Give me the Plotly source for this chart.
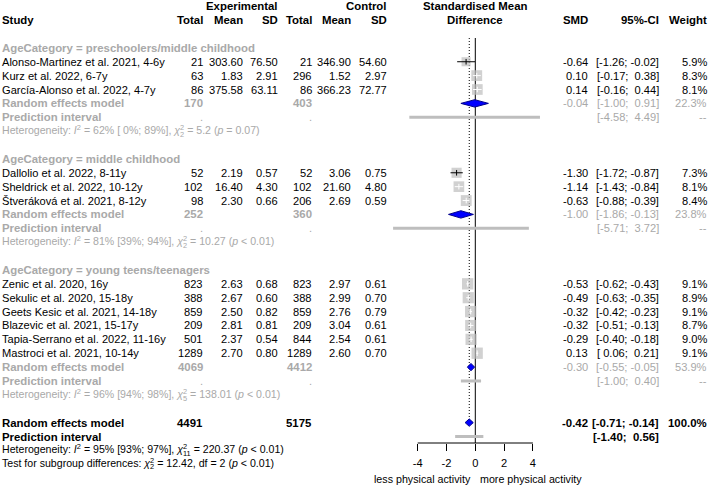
import math
import plotly.graph_objects as go

# ---------------- data ----------------
group_labels = [
    "AgeCategory = preschoolers/middle childhood",
    "AgeCategory = middle childhood",
    "AgeCategory = young teens/teenagers",
]
study = [
    "Alonso-Martinez et al. 2021, 4-6y",
    "Kurz et al. 2022, 6-7y",
    "García-Alonso et al. 2022, 4-7y",
    "Dallolio et al. 2022, 8-11y",
    "Sheldrick et al. 2022, 10-12y",
    "Štveráková et al. 2021, 8-12y",
    "Zenic et al. 2020, 16y",
    "Sekulic et al. 2020, 15-18y",
    "Geets Kesic et al. 2021, 14-18y",
    "Blazevic et al. 2021, 15-17y",
    "Tapia-Serrano et al. 2022, 11-16y",
    "Mastroci et al. 2021, 10-14y",
]
study_group = [0, 0, 0, 1, 1, 1, 2, 2, 2, 2, 2, 2]
exp_total = [21, 63, 86, 52, 102, 98, 823, 388, 859, 209, 501, 1289]
exp_mean = [303.60, 1.83, 375.58, 2.19, 16.40, 2.30, 2.63, 2.67, 2.50, 2.81, 2.37, 2.70]
exp_sd = [76.50, 2.91, 63.11, 0.57, 4.30, 0.66, 0.68, 0.60, 0.82, 0.81, 0.54, 0.80]
ctl_total = [21, 296, 86, 52, 102, 206, 823, 388, 859, 209, 844, 1289]
ctl_mean = [346.90, 1.52, 366.23, 3.06, 21.60, 2.69, 2.97, 2.99, 2.76, 3.04, 2.54, 2.60]
ctl_sd = [54.60, 2.97, 72.77, 0.75, 4.80, 0.59, 0.61, 0.70, 0.79, 0.61, 0.61, 0.70]
smd = [-0.64, 0.10, 0.14, -1.30, -1.14, -0.63, -0.53, -0.49, -0.32, -0.32, -0.29, 0.13]
ci_low = [-1.26, -0.17, -0.16, -1.72, -1.43, -0.88, -0.62, -0.63, -0.42, -0.51, -0.40, 0.06]
ci_high = [-0.02, 0.38, 0.44, -0.87, -0.84, -0.39, -0.43, -0.35, -0.23, -0.13, -0.18, 0.21]
weight = [5.9, 8.3, 8.1, 7.3, 8.1, 8.4, 9.1, 8.9, 9.1, 8.7, 9.0, 9.1]

grp_exp_total = [170, 252, 4069]
grp_ctl_total = [403, 360, 4412]
grp_smd = [-0.04, -1.00, -0.30]
grp_low = [-1.00, -1.86, -0.55]
grp_high = [0.91, -0.13, -0.05]
grp_weight = [22.3, 23.8, 53.9]
grp_pi_low = [-4.58, -5.71, -1.00]
grp_pi_high = [4.49, 3.72, 0.40]
grp_i2 = [62, 81, 96]
grp_i2_low = [0, 39, 94]
grp_i2_high = [89, 94, 98]
grp_q = ["5.2", "10.27", "138.01"]
grp_df = [2, 2, 5]
grp_p = ["= 0.07", "&lt; 0.01", "&lt; 0.01"]

all_exp_total = 4491
all_ctl_total = 5175
all_smd = -0.42
all_low = -0.71
all_high = -0.14
all_weight = 100.0
all_pi_low = -1.40
all_pi_high = 0.56
all_i2, all_i2_low, all_i2_high = 95, 93, 97
all_q, all_df, all_p = "220.37", 11, "&lt; 0.01"
sub_q, sub_df, sub_p = "12.42", 2, "&lt; 0.01"

x_ticks = [-4, -2, 0, 2, 4]
label_left = "less physical activity"
label_right = "more physical activity"

# ---------------- style / layout constants ----------------
W, H = 708, 486
FONT = "Liberation Sans, Arial, sans-serif"
BLACK = "#000000"
DGRAY = "#A9A9A9"
SQCOL = "#BEBEBE"
FS = 11.1
FS_B = 11.4
FS_HET = 10.6
FS_LAB = 10.7
ROW0, ROWH = 20.1, 13.88
ZERO_PX, PX_PER = 475.3, 14.4
X2_L, X2_R = 360.0, 590.0
AXIS_Y = 443
COL = dict(et=203, em=243, esd=278, ct=312, cm=351, csd=387, smd=588, ci=659, w=707)
NB = "\u00a0"


def ry(r):
    return ROW0 + ROWH * r


def f2(v):
    return f"{v:.2f}"


def pad(s, n):
    return NB * max(0, n - len(s)) + s


def ci_txt(lo, hi):
    return f"[{pad(f2(lo), 5)};{NB}{pad(f2(hi), 5)}]"


ann = []


def text(x, y, s, anchor="right", color=BLACK, size=None, bold=False):
    if size is None:
        size = FS_B if bold else FS
    if bold:
        s = f"<b>{s}</b>"
    ann.append(dict(x=x, y=y, xref="x", yref="y", text=s, xanchor=anchor,
                    yanchor="middle", showarrow=False, borderpad=0, borderwidth=0,
                    font=dict(family=FONT, size=size, color=color)))


def het(y, prefix, df, rest, color):
    T = 'style="color:rgba(0,0,0,0)"'
    main = f"{prefix}<i>χ</i><sub>{df}</sub>{rest}"
    over = f"<span {T}>{prefix}<i>χ</i></span><sup>2</sup><span {T}><sub>{df}</sub></span>"
    text(2, y, main, anchor="left", color=color, size=FS_HET)
    text(2, y, over, anchor="left", color=color, size=FS_HET)


def het_prefix(i2, lo, hi):
    return f"Heterogeneity: <i>I</i><sup>2</sup> = {i2}% [{pad(str(lo), 2)}%; {hi}%], "


# ---------------- headers ----------------
text(COL["esd"], ry(-1), "Experimental", bold=True)
text(COL["csd"], ry(-1), "Control", bold=True)
text(ZERO_PX, ry(-1), "Standardised Mean", anchor="center", bold=True)
text(2, ry(0), "Study", anchor="left", bold=True)
for k, lab in [("et", "Total"), ("em", "Mean"), ("esd", "SD"), ("ct", "Total"),
               ("cm", "Mean"), ("csd", "SD"), ("smd", "SMD"), ("ci", "95%-CI"), ("w", "Weight")]:
    text(COL[k], ry(0), lab, bold=True)
text(ZERO_PX, ry(0), "Difference", anchor="center", bold=True)

# ---------------- rows ----------------
sq_x, sq_y, sq_s = [], [], []
blk_x, blk_y, wht_x, wht_y = [], [], [], []
tick_bx, tick_by, tick_wx, tick_wy = [], [], [], []
dia = []   # (lo, est, hi, y)
pis = []   # (lo, hi, y)

r = 2
for g in range(len(group_labels)):
    text(2, ry(r), group_labels[g], anchor="left", color=DGRAY, bold=True)
    idx = [i for i in range(len(study)) if study_group[i] == g]
    for j, i in enumerate(idx):
        y = ry(r + 1 + j)
        text(2, y, study[i], anchor="left")
        text(COL["et"], y, str(exp_total[i]))
        text(COL["em"], y, f2(exp_mean[i]))
        text(COL["esd"], y, f2(exp_sd[i]))
        text(COL["ct"], y, str(ctl_total[i]))
        text(COL["cm"], y, f2(ctl_mean[i]))
        text(COL["csd"], y, f2(ctl_sd[i]))
        text(COL["smd"], y, f2(smd[i]))
        text(COL["ci"], y, ci_txt(ci_low[i], ci_high[i]))
        text(COL["w"], y, f"{weight[i]:.1f}%")
        size = 3.75 * math.sqrt(weight[i])
        sq_x.append(smd[i]); sq_y.append(y); sq_s.append(size)
        half = size / 2 / PX_PER
        inside = ci_low[i] >= smd[i] - half and ci_high[i] <= smd[i] + half
        if inside:
            wht_x += [ci_low[i], ci_high[i], None]; wht_y += [y, y, None]
            tick_wx.append(smd[i]); tick_wy.append(y)
        else:
            blk_x += [ci_low[i], ci_high[i], None]; blk_y += [y, y, None]
            tick_bx.append(smd[i]); tick_by.append(y)
    re_r = r + 1 + len(idx)
    y = ry(re_r)
    text(2, y, "Random effects model", anchor="left", color=DGRAY, bold=True)
    text(COL["et"], y, str(grp_exp_total[g]), color=DGRAY, bold=True)
    text(COL["ct"], y, str(grp_ctl_total[g]), color=DGRAY, bold=True)
    text(COL["smd"], y, f2(grp_smd[g]), color=DGRAY)
    text(COL["ci"], y, ci_txt(grp_low[g], grp_high[g]), color=DGRAY)
    text(COL["w"], y, f"{grp_weight[g]:.1f}%", color=DGRAY)
    dia.append((grp_low[g], grp_smd[g], grp_high[g], y))
    y = ry(re_r + 1)
    text(2, y, "Prediction interval", anchor="left", color=DGRAY, bold=True)
    text(COL["et"], y, ".", color=DGRAY)
    text(COL["ct"], y, ".", color=DGRAY)
    text(COL["ci"], y, ci_txt(grp_pi_low[g], grp_pi_high[g]), color=DGRAY)
    text(COL["w"], y, "--", color=DGRAY)
    pis.append((grp_pi_low[g], grp_pi_high[g], y))
    het(ry(re_r + 2), het_prefix(grp_i2[g], grp_i2_low[g], grp_i2_high[g]), grp_df[g],
        f" = {grp_q[g]} (<i>p</i> {grp_p[g]})", DGRAY)
    r = re_r + 4

# overall
y_all = ry(r)
text(2, y_all, "Random effects model", anchor="left", bold=True)
text(COL["et"], y_all, str(all_exp_total), bold=True)
text(COL["ct"], y_all, str(all_ctl_total), bold=True)
text(COL["smd"], y_all, f2(all_smd), bold=True)
text(COL["ci"], y_all, ci_txt(all_low, all_high), bold=True)
text(COL["w"], y_all, f"{all_weight:.1f}%", bold=True)
dia.append((all_low, all_smd, all_high, y_all))
y = ry(r + 1)
text(2, y, "Prediction interval", anchor="left", bold=True)
text(COL["ci"], y, ci_txt(all_pi_low, all_pi_high), bold=True)
pis.append((all_pi_low, all_pi_high, y))
het(ry(r + 2), het_prefix(all_i2, all_i2_low, all_i2_high), all_df,
    f" = {all_q} (<i>p</i> {all_p})", BLACK)
het(ry(r + 3), "Test for subgroup differences: ", sub_df,
    f" = {sub_q}, df = {sub_df} (<i>p</i> {sub_p})", BLACK)

# ---------------- forest traces ----------------
top_y = 38
traces = []
kw = dict(xaxis="x2", yaxis="y", hoverinfo="skip", showlegend=False)
traces.append(go.Scatter(x=[0, 0], y=[top_y, AXIS_Y], mode="lines",
                         line=dict(color=BLACK, width=1), **kw))
traces.append(go.Scatter(x=[all_smd, all_smd], y=[top_y, y_all], mode="lines",
                         line=dict(color=BLACK, width=1, dash="1px,2px"), **kw))
px, py = [], []
for lo, hi, yy in pis:
    px += [lo, hi, None]; py += [yy, yy, None]
traces.append(go.Scatter(x=px, y=py, mode="lines", line=dict(color=SQCOL, width=3), **kw))
traces.append(go.Scatter(x=sq_x, y=sq_y, mode="markers",
                         marker=dict(symbol="square", size=sq_s, color=SQCOL, line=dict(width=0)), **kw))
traces.append(go.Scatter(x=blk_x, y=blk_y, mode="lines", line=dict(color=BLACK, width=1), **kw))
traces.append(go.Scatter(x=wht_x, y=wht_y, mode="lines", line=dict(color="white", width=1), **kw))
traces.append(go.Scatter(x=tick_bx, y=tick_by, mode="markers",
                         marker=dict(symbol="line-ns", size=4, line=dict(color=BLACK, width=1)), **kw))
traces.append(go.Scatter(x=tick_wx, y=tick_wy, mode="markers",
                         marker=dict(symbol="line-ns", size=4, line=dict(color="white", width=1)), **kw))
for lo, est, hi, yy in dia:
    hh = 3.7
    traces.append(go.Scatter(x=[lo, est, hi, est, lo], y=[yy, yy - hh, yy, yy + hh, yy],
                             mode="lines", fill="toself", fillcolor="#0000FF",
                             line=dict(color="#00008B", width=1), **kw))

fig = go.Figure(traces)

# axis labels below
text(ZERO_PX - 4, 478.5, label_left, anchor="right", size=FS_LAB)
text(ZERO_PX + 5, 478.5, label_right, anchor="left", size=FS_LAB)

fig.update_layout(
    width=W, height=H, margin=dict(l=0, r=0, t=0, b=0),
    paper_bgcolor="white", plot_bgcolor="rgba(0,0,0,0)", showlegend=False,
    xaxis=dict(range=[0, W], domain=[0, 1], visible=False, fixedrange=True),
    yaxis=dict(range=[H, 0], domain=[0, 1], visible=False, fixedrange=True),
    xaxis2=dict(domain=[X2_L / W, X2_R / W],
                range=[(X2_L - ZERO_PX) / PX_PER, (X2_R - ZERO_PX) / PX_PER],
                anchor="free", position=(H - AXIS_Y) / H,
                tickvals=x_ticks, ticktext=[str(t) for t in x_ticks],
                ticks="outside", ticklen=7, tickwidth=1, tickcolor=BLACK,
                showline=False, showgrid=False, zeroline=False, fixedrange=True,
                ticklabelstandoff=3,
                tickfont=dict(family=FONT, size=FS, color=BLACK)),
    annotations=ann,
    shapes=[dict(type="line", xref="x2", yref="y", x0=x_ticks[0], x1=x_ticks[-1],
                 y0=AXIS_Y, y1=AXIS_Y, line=dict(color=BLACK, width=1))],
)

fig.write_html(
    "out.html",
    config={"displayModeBar": False},
    post_script="document.body.style.margin='0';document.body.style.overflow='hidden';",
)
